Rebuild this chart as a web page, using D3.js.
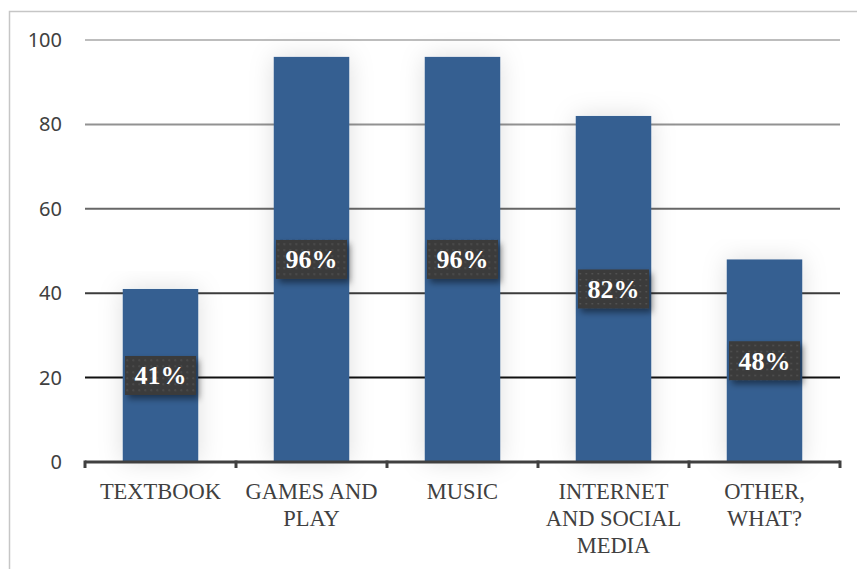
<!DOCTYPE html>
<html>
<head>
<meta charset="utf-8">
<script src="https://cdn.jsdelivr.net/npm/d3@7"></script>
</head>
<body style="margin:0; background:#fff">
<div id="chart"></div>
<script>
// Data
const categories = ["TEXTBOOK", "GAMES AND PLAY", "MUSIC", "INTERNET AND SOCIAL MEDIA", "OTHER, WHAT?"];
const categoryLines = [["TEXTBOOK"], ["GAMES AND", "PLAY"], ["MUSIC"], ["INTERNET", "AND SOCIAL", "MEDIA"], ["OTHER,", "WHAT?"]];
const values = [41, 96, 96, 82, 48];
const valueLabels = ["41%", "96%", "96%", "82%", "48%"];
const yTicks = [0, 20, 40, 60, 80, 100];

const serifFont = '"Liberation Serif"';
const sansFont = '"Noto Sans"';

const width = 857;
const height = 569;
const margin = {top: 40, right: 17, bottom: 107, left: 85};
const innerWidth = width - margin.left - margin.right;
const innerHeight = height - margin.top - margin.bottom;

const svg = d3.select("#chart")
  .append("svg")
    .attr("width", width)
    .attr("height", height)
    .attr("font-family", serifFont);

const defs = svg.append("defs");

// soft glow behind bars
const barShadow = defs.append("filter")
    .attr("id", "barShadow")
    .attr("x", "-60%").attr("y", "-10%")
    .attr("width", "220%").attr("height", "120%");
barShadow.append("feDropShadow")
    .attr("dx", 0).attr("dy", 0)
    .attr("stdDeviation", 12)
    .attr("flood-color", "#000")
    .attr("flood-opacity", 0.13);

// shadow for the label boxes
const boxShadow = defs.append("filter")
    .attr("id", "boxShadow")
    .attr("x", "-30%").attr("y", "-30%")
    .attr("width", "160%").attr("height", "170%");
boxShadow.append("feDropShadow")
    .attr("dx", 3).attr("dy", 4)
    .attr("stdDeviation", 3)
    .attr("flood-color", "#000")
    .attr("flood-opacity", 0.45);

// dotted texture on the label boxes
const dots = defs.append("pattern")
    .attr("id", "dots")
    .attr("patternUnits", "userSpaceOnUse")
    .attr("width", 6).attr("height", 6);
dots.append("rect")
    .attr("width", 6).attr("height", 6)
    .attr("fill", "#3b3b3b");
dots.append("rect")
    .attr("x", 2).attr("y", 2)
    .attr("width", 1.4).attr("height", 1.4)
    .attr("fill", "#5a5a5a");

// chart border (right and bottom edges run off the picture)
svg.append("path")
    .attr("d", `M${width},11.5 H9.5 V${height}`)
    .attr("fill", "none")
    .attr("stroke", "#c6c6c6")
    .attr("stroke-width", 1.5);

const innerChart = svg.append("g")
    .attr("transform", `translate(${margin.left}, ${margin.top})`);

// Scales
const xScale = d3.scaleBand()
  .domain(categories)
  .range([0, innerWidth])
  .paddingInner(0.5)
  .paddingOuter(0.25);

const bandStep = xScale.step();

const yScale = d3.scaleLinear()
  .domain([0, 100])
  .range([innerHeight, 0]);

// gridlines fade from black at bottom to light grey at top
const gridColour = d3.scaleLinear()
  .domain([20, 100])
  .range(["#111111", "#bdbdbd"]);

innerChart.selectAll(".grid")
  .data(yTicks.filter(d => d > 0))
  .join("line")
    .attr("class", "grid")
    .attr("x1", 0)
    .attr("x2", innerWidth)
    .attr("y1", d => yScale(d))
    .attr("y2", d => yScale(d))
    .attr("stroke", d => gridColour(d))
    .attr("stroke-width", 2);

// Bars
const barColour = "#355f91";
innerChart.selectAll(".bar")
  .data(values)
  .join("rect")
    .attr("class", "bar")
    .attr("x", (d, i) => xScale(categories[i]))
    .attr("y", d => yScale(d))
    .attr("width", xScale.bandwidth())
    .attr("height", d => innerHeight - yScale(d))
    .attr("fill", barColour)
    .attr("filter", "url(#barShadow)");

// Left axis
const leftAxis = d3.axisLeft(yScale)
  .tickValues(yTicks)
  .tickSize(0)
  .tickPadding(23);
innerChart.append("g")
    .attr("class", "axis-y")
    .call(leftAxis)
    .call(g => g.select(".domain").remove())
    .attr("font-family", sansFont)
    .attr("font-size", 20);
innerChart.selectAll(".axis-y text")
    .attr("fill", "#404040");

// Bottom axis line with ticks at category boundaries
const bottom = innerChart.append("g")
    .attr("transform", `translate(0, ${innerHeight})`);
bottom.append("line")
    .attr("x1", 0).attr("x2", innerWidth)
    .attr("y1", 0).attr("y2", 0)
    .attr("stroke", "#404040")
    .attr("stroke-width", 3);
const boundaries = d3.range(categories.length + 1).map(i => i * bandStep);
bottom.selectAll(".tick-mark")
  .data(boundaries)
  .join("line")
    .attr("class", "tick-mark")
    .attr("x1", d => d).attr("x2", d => d)
    .attr("y1", -1.5).attr("y2", 6)
    .attr("stroke", "#404040")
    .attr("stroke-width", 3);

// Category labels
const labelGroups = bottom.selectAll(".cat-label")
  .data(categoryLines)
  .join("text")
    .attr("class", "cat-label")
    .attr("x", (d, i) => xScale(categories[i]) + xScale.bandwidth() / 2)
    .attr("y", 37)
    .attr("text-anchor", "middle")
    .attr("font-family", serifFont)
    .attr("font-size", 22.5)
    .attr("fill", "#404040");
labelGroups.selectAll("tspan")
  .data(d => d)
  .join("tspan")
    .attr("x", function() { return d3.select(this.parentNode).attr("x"); })
    .attr("dy", (d, i) => i === 0 ? 0 : 27)
    .attr("font-family", serifFont)
    .text(d => d);

// Data labels
const boxW = 71;
const boxH = 39;
const labels = innerChart.selectAll(".data-label")
  .data(values)
  .join("g")
    .attr("class", "data-label")
    .attr("transform", (d, i) => {
      const cx = xScale(categories[i]) + xScale.bandwidth() / 2;
      const cy = (yScale(d) + innerHeight) / 2;
      return `translate(${cx}, ${cy})`;
    });
labels.append("rect")
    .attr("x", -boxW / 2)
    .attr("y", -boxH / 2)
    .attr("width", boxW)
    .attr("height", boxH)
    .attr("fill", "url(#dots)")
    .attr("filter", "url(#boxShadow)");
labels.append("text")
    .text((d, i) => valueLabels[i])
    .attr("y", 9)
    .attr("text-anchor", "middle")
    .attr("font-family", serifFont)
    .attr("font-weight", "bold")
    .attr("font-size", 26)
    .attr("fill", "#ffffff");
</script>
</body>
</html>
